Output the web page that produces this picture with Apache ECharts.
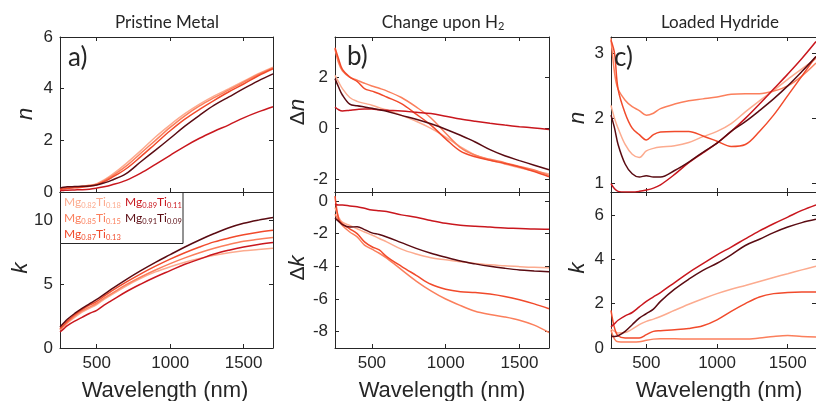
<!DOCTYPE html>
<html><head><meta charset="utf-8">
<script src="https://cdn.jsdelivr.net/npm/echarts@6/dist/echarts.min.js"></script>
<style>html,body{margin:0;padding:0;background:#fff}#c{width:816px;height:401px}</style>
</head><body><div id="c"></div>
<script>
// ---------- data ----------
const wavelength = [250,275,300,350,400,450,500,550,600,700,800,900,1000,1100,1200,1300,1400,1500,1600,1700];
const sampleMg = ['0.82','0.85','0.87','0.89','0.91'];
const sampleTi = ['0.18','0.15','0.13','0.11','0.09'];
const xTicks = [500,1000,1500];

// a) Pristine metal n
const a_n_82 = [0.13,0.15,0.18,0.2,0.22,0.26,0.32,0.47,0.65,1.1,1.6,2.13,2.6,3.03,3.4,3.72,4.0,4.29,4.58,4.83];
const a_n_85 = [0.12,0.14,0.17,0.19,0.21,0.25,0.3,0.44,0.6,1.0,1.5,2.0,2.5,2.95,3.33,3.65,3.95,4.25,4.55,4.8];
const a_n_87 = [0.1,0.12,0.14,0.16,0.18,0.22,0.28,0.4,0.55,0.9,1.37,1.87,2.37,2.82,3.2,3.55,3.88,4.18,4.5,4.77];
const a_n_89 = [0.05,0.06,0.07,0.08,0.09,0.11,0.15,0.2,0.27,0.45,0.73,1.07,1.42,1.77,2.08,2.35,2.6,2.87,3.1,3.3];
const a_n_91 = [0.15,0.18,0.2,0.21,0.22,0.23,0.27,0.35,0.45,0.71,1.17,1.62,2.08,2.55,2.97,3.36,3.68,4.0,4.3,4.57];
// a) Pristine metal k
const a_k_82 = [1.4,1.65,1.95,2.4,2.8,3.1,3.4,3.8,4.15,4.85,5.45,5.95,6.35,6.7,7.0,7.25,7.45,7.6,7.7,7.8];
const a_k_85 = [1.45,1.75,2.0,2.5,2.9,3.2,3.5,3.9,4.25,4.95,5.55,6.1,6.6,7.05,7.45,7.8,8.1,8.35,8.5,8.65];
const a_k_87 = [1.5,1.8,2.1,2.6,3.0,3.35,3.65,4.05,4.45,5.15,5.8,6.4,6.95,7.45,7.9,8.3,8.6,8.85,9.05,9.2];
const a_k_89 = [1.25,1.5,1.75,2.1,2.4,2.7,2.95,3.35,3.7,4.4,5.0,5.55,6.05,6.55,6.95,7.35,7.65,7.9,8.1,8.25];
const a_k_91 = [1.65,1.95,2.25,2.7,3.1,3.45,3.8,4.2,4.6,5.35,6.05,6.7,7.3,7.9,8.45,8.95,9.4,9.75,10.0,10.2];
// b) Change upon H2, delta n
const b_n_82 = [2.07,1.8,1.55,1.2,1.05,0.97,0.9,0.8,0.72,0.5,0.27,-0.01,-0.35,-0.73,-1.05,-1.25,-1.4,-1.55,-1.68,-1.79];
const b_n_85 = [3.1,2.55,2.25,2.0,1.88,1.76,1.65,1.56,1.46,1.2,0.83,0.4,-0.2,-0.76,-1.06,-1.22,-1.35,-1.5,-1.64,-1.85];
const b_n_87 = [3.15,2.7,2.3,2.0,1.83,1.55,1.45,1.35,1.22,0.96,0.55,0.12,-0.42,-0.9,-1.12,-1.26,-1.38,-1.52,-1.7,-1.9];
const b_n_89 = [0.83,0.72,0.67,0.7,0.73,0.75,0.75,0.72,0.7,0.67,0.62,0.57,0.47,0.36,0.27,0.19,0.12,0.06,0.01,-0.05];
const b_n_91 = [1.94,1.6,1.3,0.94,0.88,0.83,0.78,0.72,0.66,0.5,0.35,0.17,-0.04,-0.28,-0.54,-0.84,-1.08,-1.27,-1.45,-1.63];
// b) Change upon H2, delta k
const b_k_82 = [-0.4,-1.0,-1.3,-1.5,-1.7,-1.9,-2.08,-2.3,-2.5,-2.95,-3.25,-3.48,-3.6,-3.72,-3.82,-3.9,-3.97,-4.02,-4.06,-4.08];
const b_k_85 = [-0.8,-1.2,-1.5,-1.9,-2.2,-2.7,-2.95,-3.2,-3.5,-4.2,-4.9,-5.5,-6.0,-6.4,-6.75,-6.95,-7.1,-7.3,-7.6,-8.05];
const b_k_87 = [0.3,-1.1,-1.4,-1.7,-2.0,-2.5,-2.8,-3.0,-3.4,-4.0,-4.55,-5.1,-5.4,-5.55,-5.6,-5.7,-5.85,-6.05,-6.3,-6.6];
const b_k_89 = [-0.2,-0.25,-0.25,-0.3,-0.35,-0.45,-0.55,-0.6,-0.65,-0.85,-1.0,-1.2,-1.37,-1.48,-1.55,-1.6,-1.65,-1.68,-1.72,-1.73];
const b_k_91 = [-1.05,-1.25,-1.45,-1.6,-1.57,-1.75,-1.95,-2.05,-2.2,-2.55,-2.9,-3.2,-3.45,-3.68,-3.85,-4.0,-4.12,-4.22,-4.28,-4.33];
// c) Loaded hydride n
const c_n_82 = [2.2,2.0,1.85,1.6,1.45,1.4,1.5,1.54,1.56,1.58,1.63,1.72,1.8,1.92,2.1,2.27,2.43,2.6,2.76,2.92];
const c_n_85 = [3.23,2.7,2.45,2.28,2.18,2.12,2.05,2.08,2.15,2.22,2.27,2.3,2.33,2.37,2.38,2.38,2.42,2.5,2.65,2.85];
const c_n_87 = [3.2,3.0,2.45,2.08,1.85,1.75,1.67,1.75,1.79,1.8,1.8,1.73,1.65,1.57,1.6,1.8,2.05,2.35,2.65,2.95];
const c_n_89 = [1.0,0.92,0.88,0.87,0.87,0.88,0.9,0.93,0.98,1.14,1.32,1.47,1.62,1.8,2.0,2.22,2.45,2.68,2.92,3.18];
const c_n_91 = [2.05,1.85,1.6,1.3,1.15,1.1,1.12,1.1,1.1,1.2,1.33,1.48,1.62,1.8,1.95,2.12,2.3,2.5,2.72,2.95];
// c) Loaded hydride k
const c_k_82 = [0.85,0.75,0.68,0.7,0.85,1.05,1.2,1.3,1.42,1.7,1.97,2.22,2.45,2.65,2.82,3.0,3.18,3.35,3.52,3.68];
const c_k_85 = [0.8,0.4,0.28,0.27,0.27,0.28,0.35,0.4,0.42,0.42,0.4,0.4,0.4,0.4,0.4,0.45,0.52,0.56,0.52,0.5];
const c_k_87 = [1.7,0.9,0.55,0.45,0.45,0.45,0.6,0.75,0.78,0.82,0.88,1.0,1.27,1.65,2.0,2.3,2.45,2.5,2.52,2.52];
const c_k_89 = [0.95,1.1,1.25,1.45,1.6,1.85,2.1,2.3,2.5,2.95,3.4,3.8,4.2,4.55,4.92,5.28,5.6,5.9,6.2,6.45];
const c_k_91 = [0.52,0.52,0.55,0.75,1.05,1.35,1.55,1.75,2.1,2.65,3.1,3.5,3.82,4.2,4.62,4.9,5.2,5.45,5.65,5.8];

// tick labels
const yTicks_a_n = [0,2,4,6];
const yTicks_a_k = [0,5,10];
const yTicks_b_n = [-2,0,2];
const yTicks_b_k = [-8,-6,-4,-2,0];
const yTicks_c_n = [1,2,3];
const yTicks_c_k = [0,2,4,6];

// ---------- style / layout ----------
const colors = ['#fcab8f','#fb7f5c','#f14a2b','#c9171e','#5a0b12'];
const AX = '#262626';
const panels = [
  {left:60,  top:37,  w:213, h:155, min:0,    max:6,    ticks:yTicks_a_n, xl:false, d:[a_n_82,a_n_85,a_n_87,a_n_89,a_n_91]},
  {left:60,  top:192, w:213, h:156, min:0,    max:12.2, ticks:yTicks_a_k, xl:true,  d:[a_k_82,a_k_85,a_k_87,a_k_89,a_k_91]},
  {left:335, top:37,  w:214, h:155, min:-2.5, max:3.57, ticks:yTicks_b_n, xl:false, d:[b_n_82,b_n_85,b_n_87,b_n_89,b_n_91]},
  {left:335, top:192, w:214, h:156, min:-9,   max:0.55, ticks:yTicks_b_k, xl:true,  d:[b_k_82,b_k_85,b_k_87,b_k_89,b_k_91]},
  {left:611, top:37,  w:216, h:155, min:0.87, max:3.25, ticks:yTicks_c_n, xl:false, d:[c_n_82,c_n_85,c_n_87,c_n_89,c_n_91]},
  {left:611, top:192, w:216, h:156, min:0,    max:7.03, ticks:yTicks_c_k, xl:true,  d:[c_k_82,c_k_85,c_k_87,c_k_89,c_k_91]},
];

const grid=[], xAxis=[], yAxis=[], series=[];
const lineS = {color:AX, width:1};
const tickFont = {fontFamily:'Liberation Sans, Arial, sans-serif', fontSize:17, color:AX, formatter:(v)=>String(v)};
panels.forEach((p,i)=>{
  grid.push({left:p.left, top:p.top, width:p.w, height:p.h, containLabel:false});
  ['bottom','top'].forEach((pos,j)=>{
    xAxis.push({type:'value', gridIndex:i, position:pos, min:250, max:1700,
      axisLine:{show:true, onZero:false, lineStyle:lineS},
      axisTick:{show:true, inside:true, length:4, lineStyle:lineS, customValues:xTicks},
      axisLabel:Object.assign({show: j===0 && p.xl, margin:7, customValues:xTicks}, tickFont),
      splitLine:{show:false}});
  });
  ['left','right'].forEach((pos,j)=>{
    yAxis.push({type:'value', gridIndex:i, position:pos, min:p.min, max:p.max,
      axisLine:{show:true, onZero:false, lineStyle:lineS},
      axisTick:{show:true, inside:true, length:4, lineStyle:lineS, customValues:p.ticks},
      axisLabel:Object.assign({show: j===0, margin:7, customValues:p.ticks}, tickFont),
      splitLine:{show:false}});
  });
  p.d.forEach((vals,k)=>{
    series.push({type:'line', xAxisIndex:2*i, yAxisIndex:2*i, showSymbol:false, symbol:'none',
      smooth:0.35, clip:true, lineStyle:{color:colors[k], width:1.5}, itemStyle:{color:colors[k]},
      data: wavelength.map((w,n)=>[w, vals[n]])});
  });
});

const TF = 'Lato, "Open Sans", sans-serif';
const graphic = [];
function txt(x,y,text,font,extra){
  graphic.push({type:'text', x:x, y:y, z:100,
    style:Object.assign({text:text, font:font, fill:AX, align:'center', verticalAlign:'middle', textAlign:'center', textVerticalAlign:'middle'}, extra||{})});
}
// titles
txt(167,23,'Pristine Metal','17px '+TF);
graphic.push({type:'text', x:443, y:23, z:100, style:{text:'{t|Change upon H}{s|2}', fill:AX, align:'center', verticalAlign:'middle',
  rich:{t:{font:'17px '+TF, fill:AX, lineHeight:17, verticalAlign:'top'}, s:{font:'11px '+TF, fill:AX, lineHeight:8, verticalAlign:'bottom'}}}});
txt(720,23,'Loaded Hydride','17px '+TF);
// panel labels
txt(68,58,'a)','26px '+TF,{align:'left',textAlign:'left'});
txt(347,57,'b)','26px '+TF,{align:'left',textAlign:'left'});
txt(614,58,'c)','26px '+TF,{align:'left',textAlign:'left'});
// y names (rotated)
function yname(x,y,delta,letter){
  graphic.push({type:'text', x:x, y:y, rotation:Math.PI/2, z:100, style:{
    text:(delta?'{d|Δ}':'')+'{v|'+letter+'}', align:'center', verticalAlign:'middle', fill:AX,
    rich:{d:{font:'21px Liberation Sans, Arial, sans-serif', fill:AX}, v:{font:'italic 22px Liberation Sans, Arial, sans-serif', fill:AX}}}});
}
yname(26,114,false,'n'); yname(21,268,false,'k');
yname(298,112,true,'n'); yname(298,268,true,'k');
yname(578,118,false,'n'); yname(578,268,false,'k');
// x names
const XF = '22px Liberation Sans, Arial, sans-serif';
txt(165,391,'Wavelength (nm)',XF); txt(442,391,'Wavelength (nm)',XF); txt(719,391,'Wavelength (nm)',XF);
// legend
graphic.push({type:'rect', shape:{x:60.5, y:192.5, width:122.5, height:51}, style:{fill:'#fff', stroke:AX, lineWidth:1}, z:90});
const legPos = [[64,203],[64,219],[64,235],[125,203],[125,219]];
sampleMg.forEach((m,k)=>{
  graphic.push({type:'text', x:legPos[k][0], y:legPos[k][1], z:100, style:{
    text:'{m|Mg}{s|'+m+'}{m|Ti}{s|'+sampleTi[k]+'}', align:'left', verticalAlign:'middle',
    rich:{m:{font:'12px '+TF, fill:colors[k], lineHeight:13, verticalAlign:'top'},
          s:{font:'7.5px '+TF, fill:colors[k], lineHeight:7, verticalAlign:'bottom'}}}});
});

const chart = echarts.init(document.getElementById('c'), null, {renderer:'canvas'});
chart.setOption({animation:false, backgroundColor:'#fff', grid, xAxis, yAxis, series, graphic});
</script></body></html>
